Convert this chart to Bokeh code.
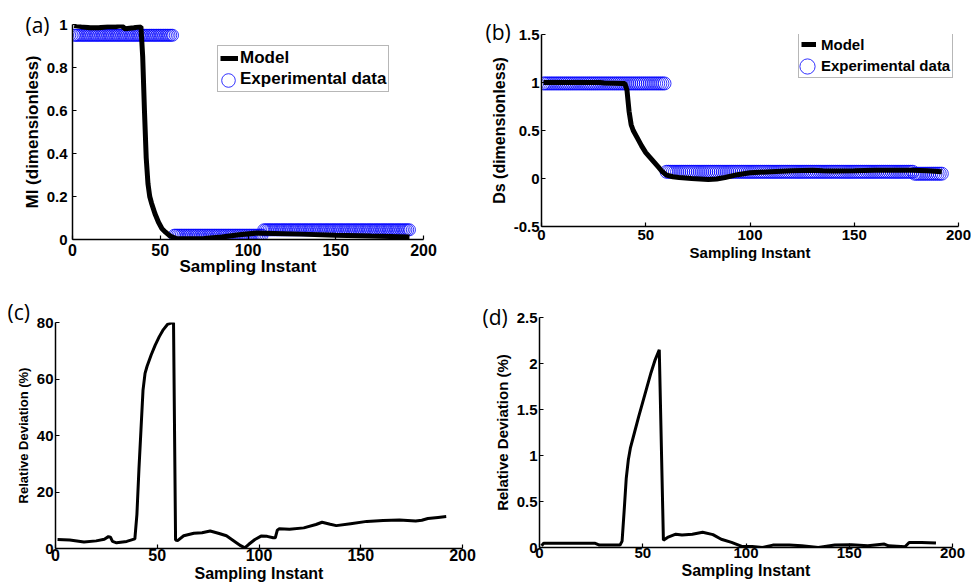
from bokeh.plotting import figure
from bokeh.models import Range1d, FixedTicker, CustomJSTickFormatter, Legend, LegendItem, Title
from bokeh.layouts import row, column
from bokeh.embed import file_html
from bokeh.resources import INLINE

# ---------------- data ----------------
instants = list(range(1, 193))

# (a) MI model (breakpoints of the model curve)
mi_model_x = [1, 5, 10, 15, 20, 25, 28, 30, 35, 39, 40, 41, 42, 43, 44, 45, 47, 49, 51, 53, 55, 57, 59,
              65, 75, 85, 95, 105, 115, 130, 150, 170, 192]
mi_model_y = [0.995, 0.99, 0.985, 0.985, 0.99, 0.99, 0.995, 0.98, 0.985, 0.99, 0.85, 0.6, 0.38, 0.26, 0.2,
              0.17, 0.12, 0.08, 0.05, 0.034, 0.02, 0.011, 0.005,
              0.003, 0.005, 0.012, 0.022, 0.03, 0.028, 0.025, 0.02, 0.016, 0.012]

# (a) MI experimental data, one value per sampling instant 1..192
exp_mi = [0.95, 0.95, 0.95, 0.95, 0.95, 0.95, 0.95, 0.95, 0.95, 0.95, 0.95, 0.95,
          0.95, 0.95, 0.95, 0.95, 0.95, 0.95, 0.95, 0.95, 0.95, 0.95, 0.95, 0.95,
          0.95, 0.95, 0.95, 0.95, 0.95, 0.95, 0.95, 0.95, 0.95, 0.95, 0.95, 0.95,
          0.95, 0.95, 0.95, 0.95, 0.95, 0.95, 0.95, 0.95, 0.95, 0.95, 0.95, 0.95,
          0.95, 0.95, 0.95, 0.95, 0.95, 0.95, 0.95, 0.95, 0.95, 0.02, 0.02, 0.02,
          0.02, 0.02, 0.02, 0.02, 0.02, 0.02, 0.02, 0.02, 0.02, 0.02, 0.02, 0.02,
          0.02, 0.02, 0.02, 0.02, 0.02, 0.02, 0.02, 0.02, 0.02, 0.02, 0.02, 0.02,
          0.02, 0.02, 0.02, 0.02, 0.02, 0.02, 0.02, 0.02, 0.02, 0.02, 0.02, 0.02,
          0.02, 0.02, 0.02, 0.02, 0.02, 0.02, 0.02, 0.02, 0.02, 0.02, 0.02, 0.02,
          0.045, 0.045, 0.045, 0.045, 0.045, 0.045, 0.045, 0.045, 0.045, 0.045, 0.045, 0.045,
          0.045, 0.045, 0.045, 0.045, 0.045, 0.045, 0.045, 0.045, 0.045, 0.045, 0.045, 0.045,
          0.045, 0.045, 0.045, 0.045, 0.045, 0.045, 0.045, 0.045, 0.045, 0.045, 0.045, 0.045,
          0.045, 0.045, 0.045, 0.045, 0.045, 0.045, 0.045, 0.045, 0.045, 0.045, 0.045, 0.045,
          0.045, 0.045, 0.045, 0.045, 0.045, 0.045, 0.045, 0.045, 0.045, 0.045, 0.045, 0.045,
          0.045, 0.045, 0.045, 0.045, 0.045, 0.045, 0.045, 0.045, 0.045, 0.045, 0.045, 0.045,
          0.045, 0.045, 0.045, 0.045, 0.045, 0.045, 0.045, 0.045, 0.045, 0.045, 0.045, 0.045]

# (b) Ds model (breakpoints)
ds_model_x = [1, 28, 30, 39, 40, 41, 42, 43, 44, 46, 48, 50, 52, 54, 56, 58, 60, 63, 66, 72, 80, 84, 88,
              94, 100, 110, 120, 130, 135, 140, 150, 160, 170, 178, 185, 192]
ds_model_y = [1.0, 1.0, 0.995, 0.99, 0.99, 0.92, 0.7, 0.56, 0.5, 0.42, 0.34, 0.27, 0.22, 0.17, 0.12, 0.07,
              0.035, 0.018, 0.01, 0.0, -0.01, -0.005, 0.01,
              0.04, 0.06, 0.07, 0.08, 0.087, 0.08, 0.078, 0.082, 0.087, 0.087, 0.087, 0.08, 0.07]

# (b) Ds experimental data, one value per sampling instant 1..192
exp_ds = [0.99, 0.99, 0.99, 0.99, 0.99, 0.99, 0.99, 0.99, 0.99, 0.99, 0.99, 0.99,
          0.99, 0.99, 0.99, 0.99, 0.99, 0.99, 0.99, 0.99, 0.99, 0.99, 0.99, 0.99,
          0.99, 0.99, 0.99, 0.99, 0.99, 0.99, 0.99, 0.99, 0.99, 0.99, 0.99, 0.99,
          0.99, 0.99, 0.99, 0.99, 0.99, 0.99, 0.99, 0.99, 0.99, 0.99, 0.99, 0.99,
          0.99, 0.99, 0.99, 0.99, 0.99, 0.99, 0.99, 0.99, 0.99, 0.99, 0.99, 0.07,
          0.07, 0.07, 0.07, 0.07, 0.07, 0.07, 0.07, 0.07, 0.07, 0.07, 0.07, 0.07,
          0.07, 0.07, 0.07, 0.07, 0.07, 0.07, 0.07, 0.07, 0.07, 0.07, 0.07, 0.07,
          0.07, 0.07, 0.07, 0.07, 0.07, 0.07, 0.07, 0.07, 0.07, 0.07, 0.07, 0.07,
          0.07, 0.07, 0.07, 0.07, 0.07, 0.07, 0.07, 0.07, 0.07, 0.07, 0.07, 0.07,
          0.07, 0.07, 0.07, 0.07, 0.07, 0.07, 0.07, 0.07, 0.07, 0.07, 0.07, 0.07,
          0.07, 0.07, 0.07, 0.07, 0.07, 0.07, 0.07, 0.07, 0.07, 0.07, 0.07, 0.07,
          0.07, 0.07, 0.07, 0.07, 0.07, 0.07, 0.07, 0.07, 0.07, 0.07, 0.07, 0.07,
          0.07, 0.07, 0.07, 0.07, 0.07, 0.07, 0.07, 0.07, 0.07, 0.07, 0.07, 0.07,
          0.07, 0.07, 0.07, 0.07, 0.07, 0.07, 0.07, 0.07, 0.07, 0.07, 0.07, 0.07,
          0.07, 0.07, 0.07, 0.07, 0.07, 0.07, 0.07, 0.07, 0.07, 0.07, 0.05, 0.05,
          0.05, 0.05, 0.05, 0.05, 0.05, 0.05, 0.05, 0.05, 0.05, 0.05, 0.05, 0.05]

# (c) relative deviation of MI (%)
dev_mi_x = [1, 7, 14, 20, 24, 26, 27, 28, 30, 35, 39, 40, 41, 42, 43, 44, 45, 47, 49, 51, 53, 55, 57, 58,
            59, 60, 63, 68, 72, 76, 80, 84, 88, 91, 93, 95, 98, 101, 104, 107, 108, 109, 110, 115, 122,
            128, 131, 135, 138, 145, 153, 161, 169, 177, 180, 183, 188, 192]
dev_mi_y = [3.2, 3.0, 2.3, 2.7, 3.3, 4.2, 4.0, 2.5, 2.0, 2.5, 3.4, 12, 28, 42, 56, 62, 64.5, 68.5, 72, 75,
            77.5, 79.3, 79.9, 79.9,
            3.0, 2.8, 4.5, 5.4, 5.6, 6.2, 5.4, 4.5, 2.5, 1.0, 0.2, 1.5, 3.2, 4.4, 4.3, 3.8, 3.8, 6.5, 7.0,
            6.8, 7.3, 8.5, 9.3, 8.6, 8.1, 8.8, 9.6, 9.9, 10.1, 9.7, 10.0, 10.6, 11.0, 11.3]

# (d) relative deviation of Ds (%)
dev_ds_x = [1, 2, 27, 29, 39, 40, 41, 42, 43, 44, 46, 48, 50, 52, 54, 56, 58, 60, 62, 66, 69, 74, 79, 84,
            88, 93, 98, 103, 108, 113, 121, 127, 135, 143, 151, 159, 167, 169, 177, 179, 185, 192]
dev_ds_y = [0.02, 0.045, 0.045, 0.026, 0.026, 0.07, 0.4, 0.75, 0.95, 1.08, 1.25, 1.42, 1.58, 1.74, 1.9,
            2.04, 2.15, 0.08, 0.11, 0.145, 0.135, 0.145, 0.165, 0.14, 0.09, 0.055, 0.012, 0.012, 0.0,
            0.026, 0.026, 0.018, 0.0, 0.026, 0.03, 0.018, 0.037, 0.018, 0.008, 0.055, 0.055, 0.048]

x_ticks = [0, 50, 100, 150, 200]
mi_ticks = [0, 0.2, 0.4, 0.6, 0.8, 1]
ds_ticks = [-0.5, 0, 0.5, 1, 1.5]
dev_mi_ticks = [0, 20, 40, 60, 80]
dev_ds_ticks = [0, 0.5, 1, 1.5, 2, 2.5]

FONT = "Liberation Sans"
LETTER_FONT = "Open Sans"


def panel(w, h, bl, br, bt, bb, yr, yticks, xlab, ylab, xtick_fs, ytick_fs, xlab_fs, ylab_fs,
          xstand, xlstand, ystand, ylstand):
    p = figure(width=w, height=h, x_range=Range1d(0, 200), y_range=Range1d(*yr),
               output_backend="svg", toolbar_location=None,
               min_border_left=bl, min_border_right=br, min_border_top=bt, min_border_bottom=bb)
    try:
        p.frame_align = False
    except Exception:
        pass
    p.outline_line_color = None
    p.xgrid.visible = False
    p.ygrid.visible = False
    xa = p.xaxis[0]
    ya = p.yaxis[0]
    xa.ticker = FixedTicker(ticks=x_ticks)
    ya.ticker = FixedTicker(ticks=yticks)
    for ax in (xa, ya):
        ax.formatter = CustomJSTickFormatter(code="return String(tick);")
        ax.axis_line_width = 1.5
        ax.axis_line_color = "black"
        ax.major_tick_line_color = "black"
        ax.major_tick_line_width = 1.2
        ax.major_tick_in = 4
        ax.major_tick_out = 0
        ax.minor_tick_line_color = None
        ax.major_label_text_font = FONT
        ax.major_label_text_font_style = "bold"
        ax.major_label_text_color = "black"
        ax.axis_label_text_font = FONT
        ax.axis_label_text_font_style = "bold"
        ax.axis_label_text_color = "black"
    xa.axis_label = xlab
    ya.axis_label = ylab
    xa.major_label_text_font_size = f"{xtick_fs}px"
    ya.major_label_text_font_size = f"{ytick_fs}px"
    xa.axis_label_text_font_size = f"{xlab_fs}px"
    ya.axis_label_text_font_size = f"{ylab_fs}px"
    xa.major_label_standoff = xstand
    xa.axis_label_standoff = xlstand
    ya.major_label_standoff = ystand
    ya.axis_label_standoff = ylstand
    return p


def letter(p, text, offset, standoff):
    p.add_layout(Title(text=text, align="left", offset=offset, standoff=standoff,
                       text_font=LETTER_FONT, text_font_size="21px", text_font_style="normal",
                       text_color="black"), "above")


def legends(p, r_model, r_dummy, r_exp, loc1, loc2, fs, gw, standoff, circ_box):
    leg1 = Legend(items=[LegendItem(label="Model", renderers=[r_model]),
                         LegendItem(label="Experimental data", renderers=[r_dummy])],
                  location=loc1, padding=2, spacing=1, margin=0, glyph_width=gw, glyph_height=20,
                  label_height=20, label_standoff=standoff, label_text_font=FONT,
                  label_text_font_style="bold", label_text_font_size=f"{fs}px",
                  label_text_color="black", border_line_color="#707070", border_line_width=1,
                  background_fill_color="white", background_fill_alpha=1.0)
    leg2 = Legend(items=[LegendItem(label=" ", renderers=[r_exp])],
                  location=loc2, padding=0, spacing=0, margin=0, glyph_width=circ_box,
                  glyph_height=circ_box, label_standoff=0, label_width=0, label_height=0,
                  label_text_alpha=0.0, label_text_font_size="1px",
                  border_line_alpha=0.0, background_fill_alpha=0.0)
    p.add_layout(leg1)
    p.add_layout(leg2)


# ---------------- (a) ----------------
pa = panel(483, 290, 72, 60, 24, 51, (0, 1), mi_ticks, "Sampling Instant", "MI (dimensionless)",
           16, 15, 17, 17, 4, -2, 5, 2)
ra_exp = pa.scatter(instants, exp_mi, marker="circle", size=12, fill_color=None,
                    line_color="#0000ff", line_width=1, line_alpha=0.8)
ra_dummy = pa.scatter(instants, exp_mi, marker="circle", size=12, fill_color=None,
                      line_color="#0000ff", line_alpha=0.0)
ra_model = pa.line(mi_model_x, mi_model_y, line_color="black", line_width=5)
legends(pa, ra_model, ra_dummy, ra_exp, (145, 147), (139, 142), 17, 18, 2, 34)
letter(pa, "(a)", -47, -29)

# ---------------- (b) ----------------
pb = panel(488, 290, 58, 13, 34, 64, (-0.5, 1.5), ds_ticks, "Sampling Instant", "Ds (dimensionless)",
           15, 15, 15, 16, 3, 1, 2, 3)
rb_exp = pb.scatter(instants, exp_ds, marker="circle", size=13, fill_color=None,
                    line_color="#0000ff", line_width=1, line_alpha=0.8)
rb_dummy = pb.scatter(instants, exp_ds, marker="circle", size=13, fill_color=None,
                      line_color="#0000ff", line_alpha=0.0)
rb_model = pb.line(ds_model_x, ds_model_y, line_color="black", line_width=5)
legends(pb, rb_model, rb_dummy, rb_exp, (257, 148), (247, 141), 15, 15, 5, 38)
letter(pb, "(b)", -56, -23)

# ---------------- (c) ----------------
pc = panel(483, 295, 55, 21, 32, 37, (0, 80), dev_mi_ticks, "Sampling Instant", "Relative Deviation (%)",
           16, 15, 16, 13, 0, 1, 2, 3)
pc.line(dev_mi_x, dev_mi_y, line_color="black", line_width=3)
letter(pc, "(c)", -48, -7)

# ---------------- (d) ----------------
pd = panel(488, 295, 56, 19, 27, 38, (0, 2.5), dev_ds_ticks, "Sampling Instant", "Relative Deviation (%)",
           15, 15, 16, 15, 0, 1, 2, 3)
pd.line(dev_ds_x, dev_ds_y, line_color="black", line_width=3)
letter(pd, "(d)", -57, -27)

layout = column(row(pa, pb), row(pc, pd))
open("out.html", "w").write(file_html(layout, INLINE))
